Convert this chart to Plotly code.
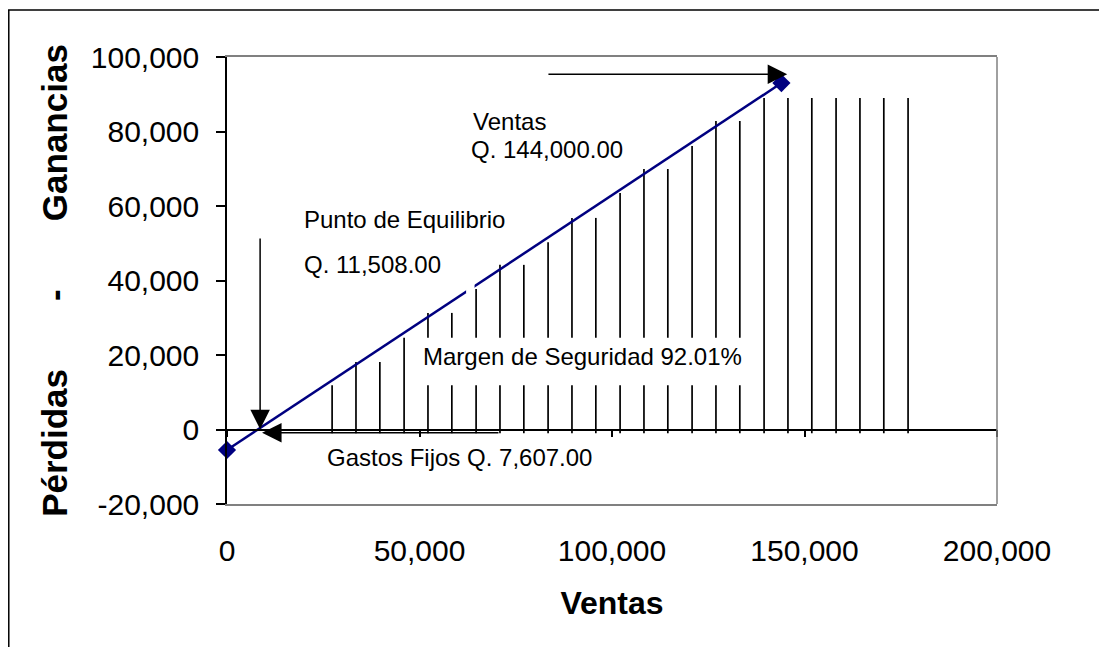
import plotly.graph_objects as go

# ---- data ----
line_x = [0, 144000]
line_y = [-5500, 93000]

hatch_x = [27300, 33500, 39700, 46000, 52200, 58400, 64700, 70900, 77100, 83400,
           89600, 95800, 102100, 108300, 114500, 120800, 127000, 133200, 139500,
           145700, 151900, 158200, 164400, 170600, 176900]
hatch_top = [11900, 18100, 18100, 24600, 31300, 31300, 37700, 44200, 44200, 50300,
             56800, 56800, 63500, 69900, 69900, 76100, 82800, 82800, 89000,
             89000, 89000, 89000, 89000, 89000, 89000]
hatch_bottom = -1000

x_ticks = [0, 50000, 100000, 150000, 200000]
x_tick_labels = ["0", "50,000", "100,000", "150,000", "200,000"]
y_ticks = [-20000, 0, 20000, 40000, 60000, 80000, 100000]
y_tick_labels = ["-20,000", "0", "20,000", "40,000", "60,000", "80,000", "100,000"]

FONT = "Liberation Sans, Arial, sans-serif"

hx, hy = [], []
for xv, tv in zip(hatch_x, hatch_top):
    hx += [xv, xv, None]
    hy += [hatch_bottom, tv, None]

fig = go.Figure()
fig.add_trace(go.Scatter(x=hx, y=hy, mode="lines",
                         line=dict(color="black", width=1.7),
                         hoverinfo="skip", showlegend=False))
fig.add_trace(go.Scatter(x=line_x, y=line_y, mode="lines+markers",
                         line=dict(color="#000080", width=2.5),
                         marker=dict(symbol="diamond", size=14, color="#000080"),
                         cliponaxis=False, showlegend=False))
# helper trace so the zero-crossing axis is rendered
fig.add_trace(go.Scatter(x=[None], y=[None], xaxis="x2", showlegend=False))

nb = "\u00a0"
ytitle = "Pérdidas" + nb * 7 + "-" + nb * 7 + "Ganancias"

fig.update_layout(
    width=1099, height=639,
    margin=dict(l=219, r=110, t=49, b=143),
    paper_bgcolor="white", plot_bgcolor="white",
    font=dict(family=FONT, color="black"),
    xaxis=dict(range=[0, 200000], tickvals=x_ticks, ticktext=x_tick_labels,
               showline=True, linecolor="#808080", linewidth=1.5, mirror=True,
               ticks="", showgrid=False, zeroline=False,
               tickfont=dict(size=30, family=FONT),
               ticklabelstandoff=19,
               title=dict(text="<b>Ventas</b>", font=dict(size=32, family=FONT), standoff=26)),
    xaxis2=dict(range=[0, 200000], tickvals=x_ticks, overlaying="x", anchor="free",
                position=1/6, showline=True, linecolor="black", linewidth=1.5,
                ticks="outside", ticklen=7, tickcolor="black", tickwidth=1.5,
                showticklabels=False, showgrid=False, zeroline=False),
    yaxis=dict(range=[-20000, 100000], tickvals=y_ticks, ticktext=y_tick_labels,
               showline=True, linecolor="black", linewidth=1.5,
               ticks="outside", ticklen=9, tickcolor="black", tickwidth=1.5,
               showgrid=False, zeroline=False,
               tickfont=dict(size=30, family=FONT),
               ticklabelstandoff=11,
               title=dict(text="<b>" + ytitle + "</b>", font=dict(size=35, family=FONT), standoff=13)),
)

shapes = [
    # right border of plot area
    dict(type="line", xref="paper", yref="paper", x0=1, x1=1, y0=0, y1=1,
         line=dict(color="#808080", width=1.5)),
    # outer chart border (right/bottom edges lie outside the picture)
    dict(type="rect", xref="paper", yref="paper", x0=-0.2834, x1=1.25, y0=-0.40, y1=1.1051,
         line=dict(color="black", width=1.5), fillcolor="rgba(0,0,0,0)", layer="above"),
    # white box behind "Margen de Seguridad"
    dict(type="rect", xref="x", yref="y", x0=48100, x1=136400, y0=11900, y1=24600,
         fillcolor="white", line=dict(width=0), layer="above"),
    # small white patch on the line
    dict(type="rect", xref="x", yref="y", x0=62100, x1=64300, y0=36600, y1=39300,
         fillcolor="white", line=dict(width=0), layer="above"),
]
fig.update_layout(shapes=shapes)

ann_font = dict(size=24, family=FONT, color="black")
texts = [
    ("Ventas", 73500, 82700),
    ("Q. 144,000.00", 83000, 75300),
    ("Punto de Equilibrio", 46000, 56500),
    ("Q. 11,508.00", 37700, 44200),
    ("Margen de Seguridad 92.01%", 92300, 19600),
    ("Gastos Fijos Q. 7,607.00", 60400, -7500),
]
annotations = [dict(text=t, x=xv, y=yv, xref="x", yref="y", showarrow=False,
                    xanchor="center", yanchor="middle", font=ann_font)
               for t, xv, yv in texts]

arrows = [
    (145500, 95400, 83100, 95400),
    (8600, 100, 8600, 51700),
    (9100, -900, 70900, -900),
]
for xv, yv, axv, ayv in arrows:
    annotations.append(dict(text="", x=xv, y=yv, ax=axv, ay=ayv, xref="x", yref="y",
                            axref="x", ayref="y", showarrow=True, arrowhead=2,
                            arrowsize=2.6, arrowwidth=1.5, arrowcolor="black", standoff=0))
fig.update_layout(annotations=annotations)

fig.write_html("out.html")
